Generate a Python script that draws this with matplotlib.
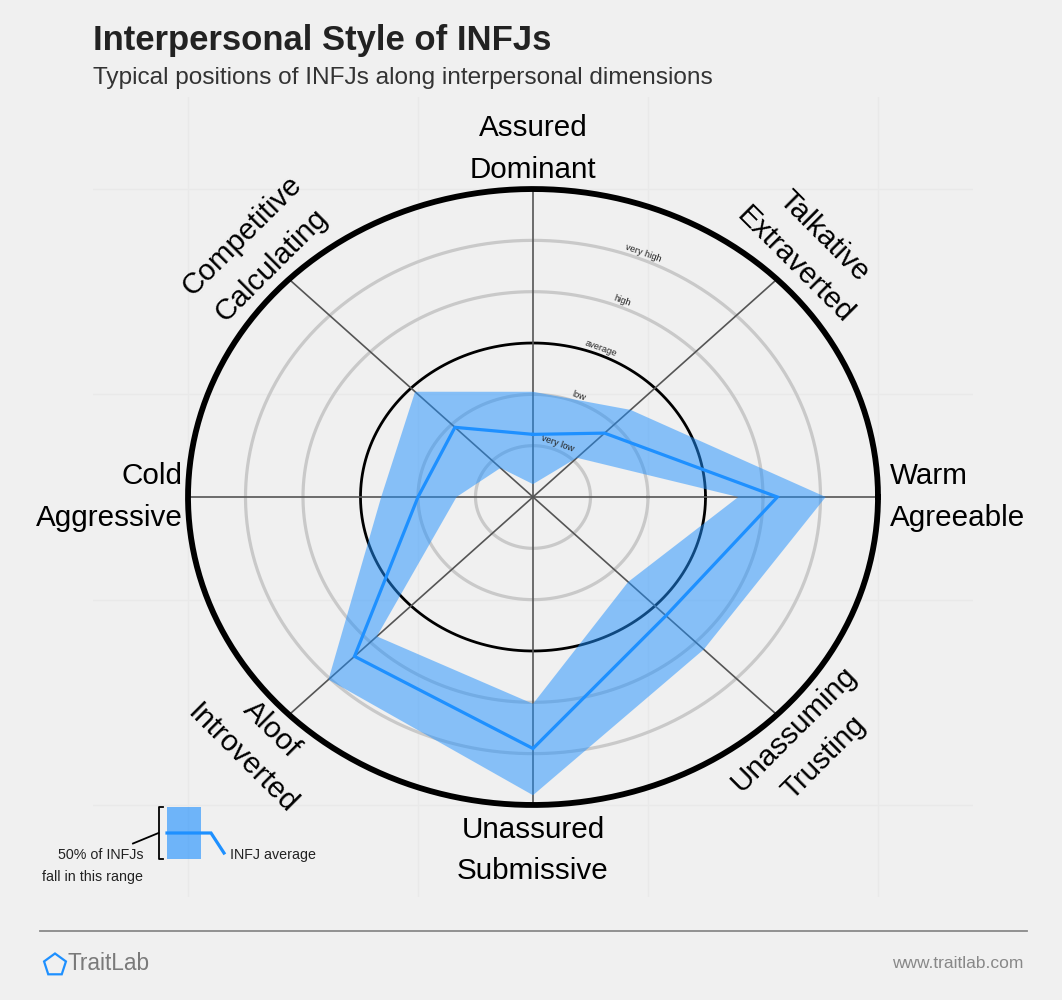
import numpy as np
import matplotlib
matplotlib.use("Agg")
import matplotlib.pyplot as plt
from matplotlib.patches import Rectangle, RegularPolygon

plt.rcParams['font.family'] = ['Liberation Sans', 'DejaVu Sans']

# ---------------- data ----------------
dimensions = ["Assured\nDominant", "Talkative\nExtraverted", "Warm\nAgreeable",
              "Unassuming\nTrusting", "Unassured\nSubmissive", "Aloof\nIntroverted",
              "Cold\nAggressive", "Competitive\nCalculating"]
angles_deg = [90, 45, 0, -45, -90, -135, 180, 135]
infj_average = [1.22, 1.76, 4.25, 3.27, 4.90, 4.39, 2.00, 1.92]
range_low = [0.25, 1.08, 3.57, 2.34, 4.03, 3.84, 1.33, 0.80]
range_high = [2.05, 2.40, 5.09, 4.20, 5.81, 5.03, 2.64, 2.90]
scale_levels = [1, 2, 3, 4, 5]
scale_labels = ["very low", "low", "average", "high", "very high"]
max_level = 6

W, H = 1062, 1000
BG = "#f0f0f0"
BLUE = "#1e90ff"

fig = plt.figure(figsize=(W / 100, H / 100), dpi=100, facecolor=BG)

# main chart axes (stretched horizontally like the reference)
ax_left, ax_w = 93, 880
ax_top, ax_h = 97, 800
ax = fig.add_axes([ax_left / W, 1 - (ax_top + ax_h) / H, ax_w / W, ax_h / H])
ax.set_facecolor("none")
xl = 440 / 57.5
yl = 400 / 51.33
ax.set_xlim(-xl, xl)
ax.set_ylim(-yl, yl)
ax.set_xticks([-6, -2, 2, 6])
ax.set_yticks([-6, -2, 2, 6])
ax.grid(True, color="#e9e9e9", lw=1.0)
ax.tick_params(length=0, labelbottom=False, labelleft=False)
for s in ax.spines.values():
    s.set_visible(False)
ax.set_axisbelow(True)

sx = ax_w / (2 * xl)   # px per data unit horizontally
sy = ax_h / (2 * yl)

th = np.linspace(0, 2 * np.pi, 400)
for lv in scale_levels:
    if lv == 3:
        ax.plot(lv * np.cos(th), lv * np.sin(th), color="black", lw=2.0, zorder=2)
    else:
        ax.plot(lv * np.cos(th), lv * np.sin(th), color="#c9c9c9", lw=2.3, zorder=2)
ax.plot(max_level * np.cos(th), max_level * np.sin(th), color="black", lw=4.2, zorder=3)

ang = np.deg2rad(angles_deg)
for a in ang:
    ax.plot([0, max_level * np.cos(a)], [0, max_level * np.sin(a)], color="#555555", lw=1.2, zorder=2)

# band
hi = np.array(range_high)
lo = np.array(range_low)
outer_x = np.append(hi * np.cos(ang), hi[0] * np.cos(ang[0]))
outer_y = np.append(hi * np.sin(ang), hi[0] * np.sin(ang[0]))
inner_x = np.append(lo * np.cos(ang), lo[0] * np.cos(ang[0]))[::-1]
inner_y = np.append(lo * np.sin(ang), lo[0] * np.sin(ang[0]))[::-1]
ax.fill(np.concatenate([outer_x, inner_x]), np.concatenate([outer_y, inner_y]),
        color=BLUE, alpha=0.5, lw=0, zorder=4)

avg = np.array(infj_average)
ax.plot(np.append(avg * np.cos(ang), avg[0] * np.cos(ang[0])),
        np.append(avg * np.sin(ang), avg[0] * np.sin(ang[0])),
        color=BLUE, lw=2.3, zorder=5, solid_joinstyle="miter")

# scale labels
lab_ang = np.deg2rad(68)
rot = np.degrees(np.arctan2(-sy * np.cos(lab_ang), sx * np.sin(lab_ang)))
for lv, txt in zip(scale_levels, scale_labels):
    r = lv + 0.13
    ax.text(r * np.cos(lab_ang), r * np.sin(lab_ang), txt, fontsize=6.7, color="#222222",
            rotation=rot, rotation_mode="anchor", ha="center", va="center", zorder=6)

# dimension labels
label_fs = 21.3
ls = 1.6
for d, a in zip(dimensions, angles_deg):
    rad = np.deg2rad(a)
    if a == 90:
        ax.text(0, 6.78, d, ha="center", va="center", fontsize=label_fs, linespacing=ls, multialignment="center")
    elif a == -90:
        ax.text(0, -6.88, d, ha="center", va="center", fontsize=label_fs, linespacing=ls, multialignment="center")
    elif a == 0:
        ax.text(6.2, 0.0, d, ha="left", va="center", fontsize=label_fs, linespacing=ls, multialignment="left")
    elif a == 180:
        ax.text(-6.09, 0.0, d, ha="right", va="center", fontsize=label_fs, linespacing=ls, multialignment="right")
    else:
        r = 6.79
        rr = -45 if a in (45, -135) else 45
        ax.text(r * np.cos(rad), r * np.sin(rad), d, ha="center", va="center", fontsize=label_fs,
                linespacing=ls, multialignment="center", rotation=rr, rotation_mode="anchor")

# ---------------- overlay for title, legend, footer (pixel coords) ----------------
ov = fig.add_axes([0, 0, 1, 1])
ov.set_xlim(0, W)
ov.set_ylim(H, 0)
ov.axis("off")
ov.patch.set_alpha(0)

ov.text(93, 50, "Interpersonal Style of INFJs", fontsize=24.9, fontweight="bold", color="#222222",
        ha="left", va="baseline")
ov.text(93, 84, "Typical positions of INFJs along interpersonal dimensions", fontsize=17.55,
        color="#333333", ha="left", va="baseline")

# legend
ov.add_patch(Rectangle((167, 807), 34, 52, facecolor=BLUE, alpha=0.62, lw=0))
ov.plot([167, 211, 224], [833, 833, 853], color=BLUE, lw=2.3, solid_joinstyle="miter")
ov.plot([163, 158.5, 158.5, 163], [807, 807, 859, 859], color="black", lw=1.3)
ov.plot([158.5, 133], [833, 843.5], color="black", lw=1.3)
ov.text(230, 855, "INFJ average", fontsize=10.3, color="#222222", ha="left", va="center")
ov.text(143, 855, "50% of INFJs", fontsize=10.3, color="#222222", ha="right", va="center")
ov.text(143, 876.5, "fall in this range", fontsize=10.3, color="#222222", ha="right", va="center")

# footer
ov.plot([40, 1027], [931, 931], color="#8a8a8a", lw=1.3)
ov.add_patch(RegularPolygon((55, 965), numVertices=5, radius=11.5, orientation=np.pi,
                            facecolor="none", edgecolor=BLUE, lw=1.6))
ov.text(68, 964, "TraitLab", fontsize=16.3, color="#7a7a7a", ha="left", va="center")
ov.text(1023, 964, "www.traitlab.com", fontsize=12.5, color="#888888", ha="right", va="center")

fig.savefig("out.png", dpi=100, facecolor=BG)
